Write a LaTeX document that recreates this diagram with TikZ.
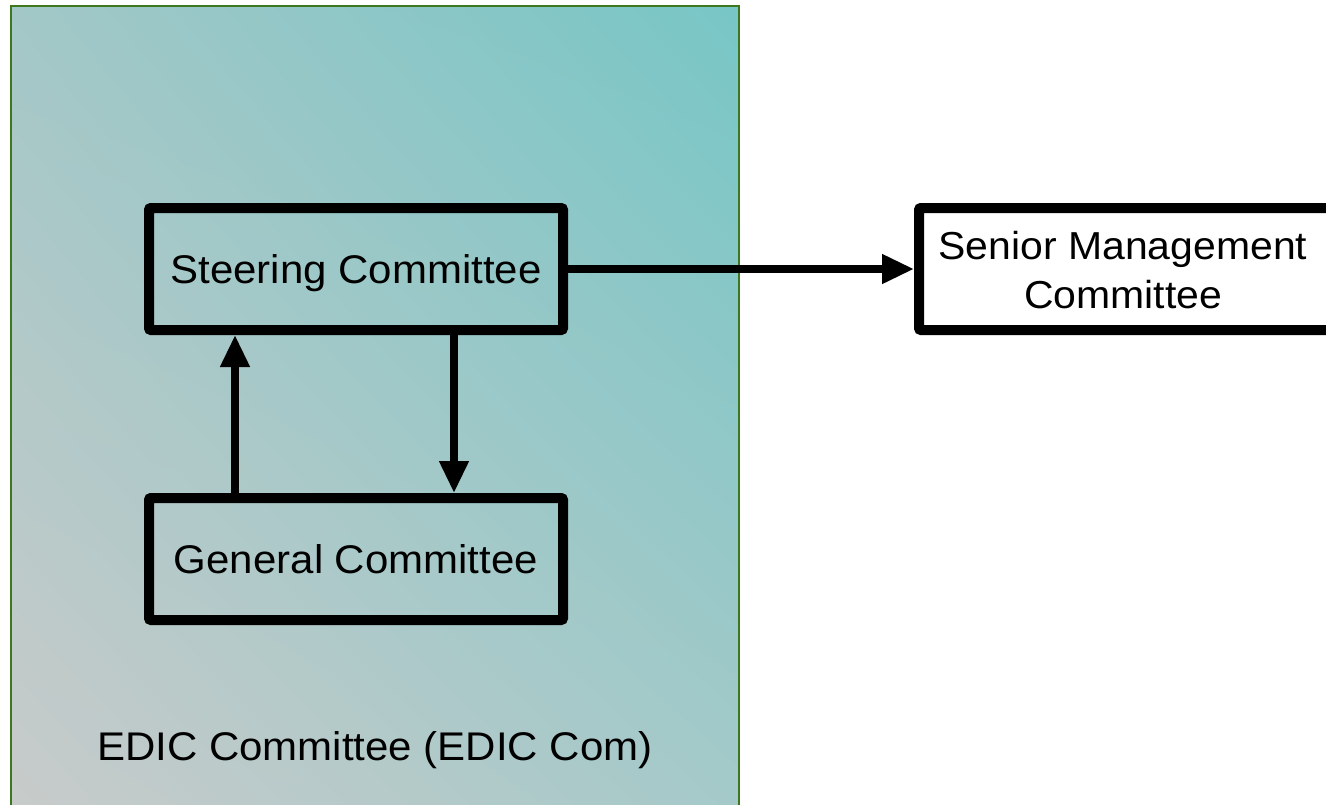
\documentclass[tikz,border=0pt]{standalone}
\usepackage{fontspec}
\setmainfont{Liberation Sans}[FakeStretch=1.05]
\usetikzlibrary{arrows.meta,calc,shadings}
\definecolor{frameg}{RGB}{62,120,30}
\definecolor{ulc}{RGB}{163,199,199}
\definecolor{urc}{RGB}{120,198,198}
\definecolor{llc}{RGB}{200,203,202}
\definecolor{lrc}{RGB}{165,201,201}
\tikzset{
  combox/.style={draw=black, line width=10pt, rounded corners=2pt, inner sep=0pt,
    minimum width=414pt, minimum height=122pt, font=\fontsize{40}{50}\selectfont,
    text height=29pt, text depth=0pt},
  lbl/.style={inner sep=0pt, font=\fontsize{40}{50}\selectfont, align=center},
  conn/.style={line width=7.5pt, -{Triangle[length=32pt, width=28pt]}}
}
\begin{document}
\begin{tikzpicture}[x=1pt, y=-1pt]
\useasboundingbox (0,0) rectangle (1326,804);
\shade[upper left=ulc, upper right=urc, lower left=llc, lower right=lrc]
  (11,6) rectangle (739,812);
\draw[frameg, line width=2pt] (11,812) -- (11,6) -- (739,6) -- (739,812);
\node[combox] (st) at (356,269) {Steering Committee};
\node[combox] (gen) at (356,559) {General Committee};
\node[combox, minimum width=421pt] (sen) at (1129.5,269) {};
\node[lbl, font=\fontsize{39}{49}\selectfont] (senl) at (1123,270) {Senior Management\\Committee};
\node[lbl, anchor=base] (edic) at (375,760) {EDIC Committee (EDIC Com)};
\coordinate (ux) at (235,0);
\coordinate (dx) at (454,0);
\draw[conn] (st.east) -- (sen.west);
\draw[conn] (gen.north -| ux) -- (st.south -| ux);
\draw[conn] (st.south -| dx) -- (gen.north -| dx);
\end{tikzpicture}
\end{document}
